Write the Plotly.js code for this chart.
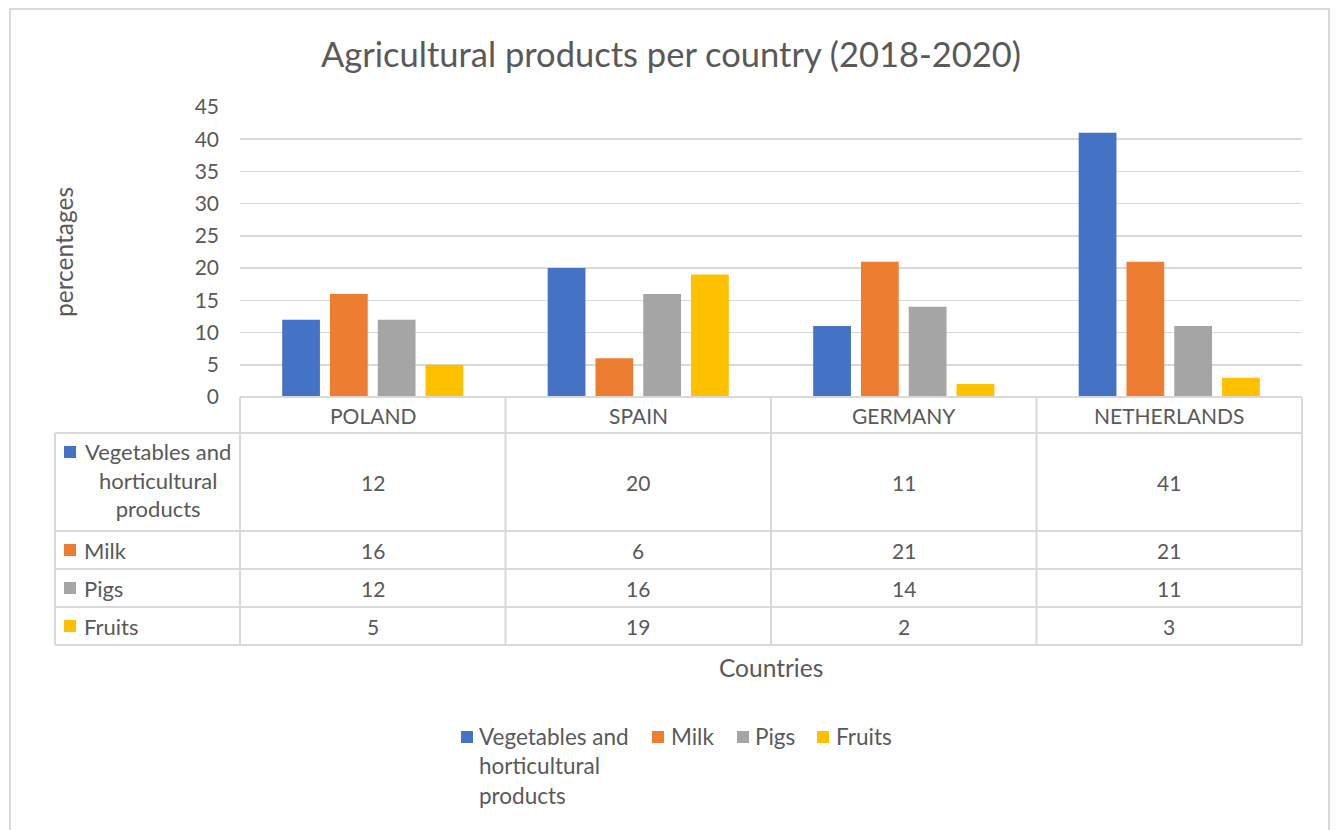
<!DOCTYPE html>
<html>
<head>
<meta charset="utf-8">
<script src="https://cdn.plot.ly/plotly-3.0.1.min.js"></script>
<style>html,body{margin:0;padding:0;background:#fff;}#chart{width:1335px;height:830px;}</style>
</head>
<body>
<div id="chart"></div>
<script>
// ---- data ----
const countries = ['POLAND', 'SPAIN', 'GERMANY', 'NETHERLANDS'];
const seriesNames = ['Vegetables and<br>horticultural<br>products', 'Milk', 'Pigs', 'Fruits'];
const vegetables = [12, 20, 11, 41];
const milk = [16, 6, 21, 21];
const pigs = [12, 16, 14, 11];
const fruits = [5, 19, 2, 3];
const yTickValues = [0, 5, 10, 15, 20, 25, 30, 35, 40, 45];
const chartTitle = 'Agricultural products per country (2018-2020)';
const xTitle = 'Countries';
const yTitle = 'percentages';

const seriesValues = [vegetables, milk, pigs, fruits];
const colors = ['#4472C4', '#ED7D31', '#A5A5A5', '#FFC000'];

// ---- geometry helpers ----
const W = 1335, H = 830;
const px = x => x / W;
const py = y => 1 - y / H;
const FONT = 'Lato, "Open Sans", sans-serif';
const TXT = '#595959';
const GRID = '#d9d9d9';

const plotLeft = 240, plotRight = 1302, plotTop = 107, plotBottom = 397;
const xDom = [px(plotLeft), px(plotRight)];
const yDom = [py(plotBottom), py(plotTop)];

// table rows (pixel tops / bottoms)
const headerBottom = 433;
const rowEdges = [433, 531, 569, 607, 645];
const tableLeft = 55;

const traces = seriesValues.map((vals, i) => ({
  type: 'bar',
  x: countries,
  y: vals,
  name: seriesNames[i],
  marker: { color: colors[i], line: { width: 0 } },
  showlegend: false,
  hoverinfo: 'x+y'
}));

const shapes = [];
const annotations = [];

// outer chart border
shapes.push({ type: 'rect', xref: 'paper', yref: 'paper',
  x0: px(10), x1: px(1329), y0: -0.05, y1: py(9),
  line: { color: GRID, width: 2 }, fillcolor: 'rgba(0,0,0,0)' });

// column edges derived from the category axis domain
const nCat = countries.length;
const colEdge = j => xDom[0] + (xDom[1] - xDom[0]) * j / nCat;

// horizontal table lines
shapes.push({ type: 'line', xref: 'paper', yref: 'paper',
  x0: colEdge(0), x1: colEdge(nCat), y0: py(plotBottom), y1: py(plotBottom),
  line: { color: GRID, width: 2 } });
rowEdges.forEach(y => shapes.push({ type: 'line', xref: 'paper', yref: 'paper',
  x0: px(tableLeft), x1: colEdge(nCat), y0: py(y), y1: py(y),
  line: { color: GRID, width: 2 } }));
// vertical table lines
shapes.push({ type: 'line', xref: 'paper', yref: 'paper',
  x0: px(tableLeft), x1: px(tableLeft), y0: py(rowEdges[0]), y1: py(rowEdges[rowEdges.length - 1]),
  line: { color: GRID, width: 2 } });
for (let j = 0; j <= nCat; j++) {
  shapes.push({ type: 'line', xref: 'paper', yref: 'paper',
    x0: colEdge(j), x1: colEdge(j), y0: py(plotBottom), y1: py(rowEdges[rowEdges.length - 1]),
    line: { color: GRID, width: 2 } });
}

// header (country names)
countries.forEach(c => annotations.push({
  xref: 'x', yref: 'paper', x: c, y: py((plotBottom + headerBottom) / 2),
  text: c, showarrow: false, xanchor: 'center', yanchor: 'middle',
  font: { family: FONT, size: 21, color: TXT }
}));

// table body
seriesValues.forEach((vals, i) => {
  const yc = (rowEdges[i] + rowEdges[i + 1]) / 2;
  vals.forEach((v, j) => annotations.push({
    xref: 'x', yref: 'paper', x: countries[j], y: py(yc),
    text: String(v), showarrow: false, xanchor: 'center', yanchor: 'middle',
    font: { family: FONT, size: 21, color: TXT }
  }));
  const multi = seriesNames[i].indexOf('<br>') >= 0;
  // key square
  const sqTop = multi ? rowEdges[i] + 13 : yc - 6;
  shapes.push({ type: 'rect', xref: 'paper', yref: 'paper',
    x0: px(64), x1: px(76), y0: py(sqTop + 12), y1: py(sqTop),
    line: { width: 0 }, fillcolor: colors[i] });
  annotations.push({
    xref: 'paper', yref: 'paper',
    x: multi ? px(158) : px(82), y: py(multi ? yc - 2.5 : yc),
    text: seriesNames[i], showarrow: false,
    xanchor: multi ? 'center' : 'left', yanchor: 'middle', align: multi ? 'center' : 'left',
    font: { family: FONT, size: 22, color: TXT }
  });
});

// bottom legend (manual, to match spacing)
const legendSq = [461, 652, 737, 817];
const legendTxt = [479, 671, 755, 836];
seriesNames.forEach((n, i) => {
  shapes.push({ type: 'rect', xref: 'paper', yref: 'paper',
    x0: px(legendSq[i]), x1: px(legendSq[i] + 12), y0: py(743), y1: py(731),
    line: { width: 0 }, fillcolor: colors[i] });
  annotations.push({
    xref: 'paper', yref: 'paper', x: px(legendTxt[i] - 2), y: py(721),
    text: n, showarrow: false, xanchor: 'left', yanchor: 'top', align: 'left',
    font: { family: FONT, size: 22.5, color: TXT }
  });
});

// axis titles
annotations.push({ xref: 'paper', yref: 'paper', x: px(63), y: py((plotTop + plotBottom) / 2),
  text: yTitle, textangle: -90, showarrow: false, xanchor: 'center', yanchor: 'middle',
  font: { family: FONT, size: 24.5, color: TXT } });
annotations.push({ xref: 'paper', yref: 'paper', x: (xDom[0] + xDom[1]) / 2, y: py(667),
  text: xTitle, showarrow: false, xanchor: 'center', yanchor: 'middle',
  font: { family: FONT, size: 24.5, color: TXT } });

const layout = {
  width: W, height: H,
  margin: { l: 0, r: 0, t: 0, b: 0, pad: 0 },
  paper_bgcolor: '#ffffff', plot_bgcolor: '#ffffff',
  title: { text: chartTitle, x: px(671), xanchor: 'center', y: py(55), yanchor: 'middle',
    font: { family: FONT, size: 34.5, color: TXT } },
  font: { family: FONT, color: TXT },
  barmode: 'group', bargap: 0.28, bargroupgap: 0.21,
  showlegend: false,
  xaxis: { domain: xDom, type: 'category', range: [-0.5, nCat - 0.5],
    showticklabels: false, showgrid: false, zeroline: false, showline: false, ticks: '' },
  yaxis: { domain: yDom, range: [0, 45], tickvals: yTickValues, ticktext: yTickValues.map(String),
    showgrid: true, gridcolor: GRID, gridwidth: 1.5, zeroline: false, showline: false,
    ticks: '', ticklabelstandoff: 20, tickfont: { family: FONT, size: 21, color: TXT } },
  shapes: shapes,
  annotations: annotations
};

Plotly.newPlot('chart', traces, layout, { displayModeBar: false, staticPlot: true });
</script>
</body>
</html>
